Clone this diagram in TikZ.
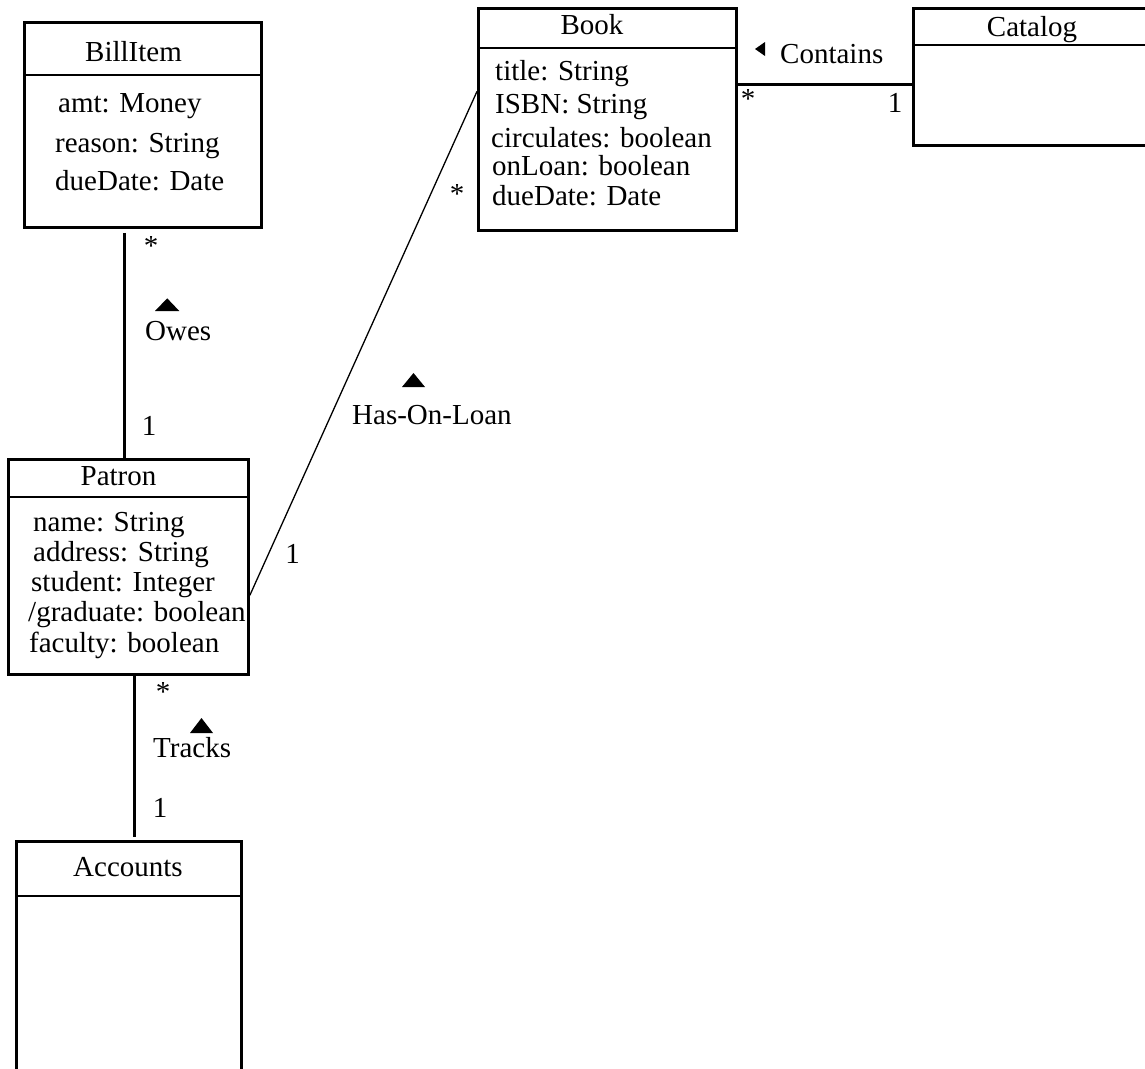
\documentclass[tikz,border=0pt]{standalone}
\usepackage{fontspec}
\setmainfont{Liberation Serif}
\begin{document}
\begin{tikzpicture}[x=1pt, y=-1pt,
  font=\fontsize{29}{34}\selectfont,
  classbox/.style={draw, line width=2.8pt, rectangle, anchor=north west, inner sep=0pt},
  divider/.style={line width=2.8pt},
  assoc/.style={line width=2.8pt},
  thinassoc/.style={line width=1.3pt},
  attr/.style={anchor=base west, inner sep=0pt},
  title/.style={anchor=base, inner sep=0pt},
  mult/.style={anchor=base, inner sep=0pt},
  dirmark/.style={fill=black}]

% page
\fill[white] (0,0) rectangle (1145,1068);
\useasboundingbox (0,0) rectangle (1145,1068);

% ---- classes ----
\node[classbox, minimum width=237pt, minimum height=205pt] (billitem) at (23,21) {};
\draw[divider] ([yshift=-54pt]billitem.north west) -- ([yshift=-54pt]billitem.north east);
\node[title] (billitemname) at (133.5,61) {BillItem};
\node[attr] (bi1) at (58,112) {amt: Money};
\node[attr] (bi2) at (55,152) {reason: String};
\node[attr] (bi3) at (55,190) {dueDate: Date};

\node[classbox, minimum width=240pt, minimum height=215pt] (patron) at (7,458) {};
\draw[divider] ([yshift=-39pt]patron.north west) -- ([yshift=-39pt]patron.north east);
\node[title] (patronname) at (118.5,485) {Patron};
\node[attr] (pa1) at (33,531) {name: String};
\node[attr] (pa2) at (33,561) {address: String};
\node[attr] (pa3) at (31,591) {student: Integer};
\node[attr] (pa4) at (28,621) {/graduate: boolean};
\node[attr] (pa5) at (29,652) {faculty: boolean};

\node[classbox, minimum width=258pt, minimum height=222pt] (book) at (477,7) {};
\draw[divider] ([yshift=-41pt]book.north west) -- ([yshift=-41pt]book.north east);
\node[title] (bookname) at (592,34) {Book};
\node[attr] (bo1) at (495,80) {title: String};
\node[attr] (bo2) at (495,113) {ISBN: String};
\node[attr] (bo3) at (491,147) {circulates: boolean};
\node[attr] (bo4) at (492,175) {onLoan: boolean};
\node[attr] (bo5) at (492,205) {dueDate: Date};

\node[classbox, minimum width=260pt, minimum height=137pt] (catalog) at (912,7) {};
\draw[divider] ([yshift=-38pt]catalog.north west) -- ([yshift=-38pt]catalog.north east);
\node[title] (catalogname) at (1032,36) {Catalog};

\node[classbox, minimum width=225pt, minimum height=260pt] (accounts) at (15,840) {};
\draw[divider] ([yshift=-56pt]accounts.north west) -- ([yshift=-56pt]accounts.north east);
\node[title] (accountsname) at (128,876) {Accounts};

% ---- associations ----
% Owes
\draw[assoc] ([xshift=-18.5pt, yshift=-4pt]billitem.south) -- ([xshift=-4pt]patron.north);
\node[mult] (owesmany) at (151,255) {*};
\node[mult] (owesone) at (149,435) {1};
\node[attr] (owes) at (145,340) {Owes};
\fill[dirmark] (155,311) -- (179.3,311) -- (167.2,298.3) -- cycle;

% Has-On-Loan
\draw[thinassoc] ([yshift=-28.5pt]patron.east) -- ([yshift=28pt]book.west);
\node[mult] (loanmany) at (457,203) {*};
\node[mult] (loanone) at (292.5,563) {1};
\node[attr] (hasonloan) at (352,424) {Has-On-Loan};
\fill[dirmark] (402,387) -- (425,387) -- (413.5,373) -- cycle;

% Contains
\draw[assoc] ([yshift=35pt]book.east) -- ([yshift=35pt]book.east -| catalog.west);
\node[mult] (containsmany) at (748,108) {*};
\node[mult] (containsone) at (895,112) {1};
\node[attr] (contains) at (780,63) {Contains};
\fill[dirmark] (765,42) -- (765,56) -- (755,49) -- cycle;

% Tracks
\draw[assoc] ([xshift=6pt]patron.south) -- ([xshift=5.5pt, yshift=3pt]accounts.north);
\node[mult] (tracksmany) at (163,701) {*};
\node[mult] (tracksone) at (160,817) {1};
\node[attr] (tracks) at (153,757) {Tracks};
\fill[dirmark] (190,733) -- (213,733) -- (201.5,718) -- cycle;

\end{tikzpicture}
\end{document}
